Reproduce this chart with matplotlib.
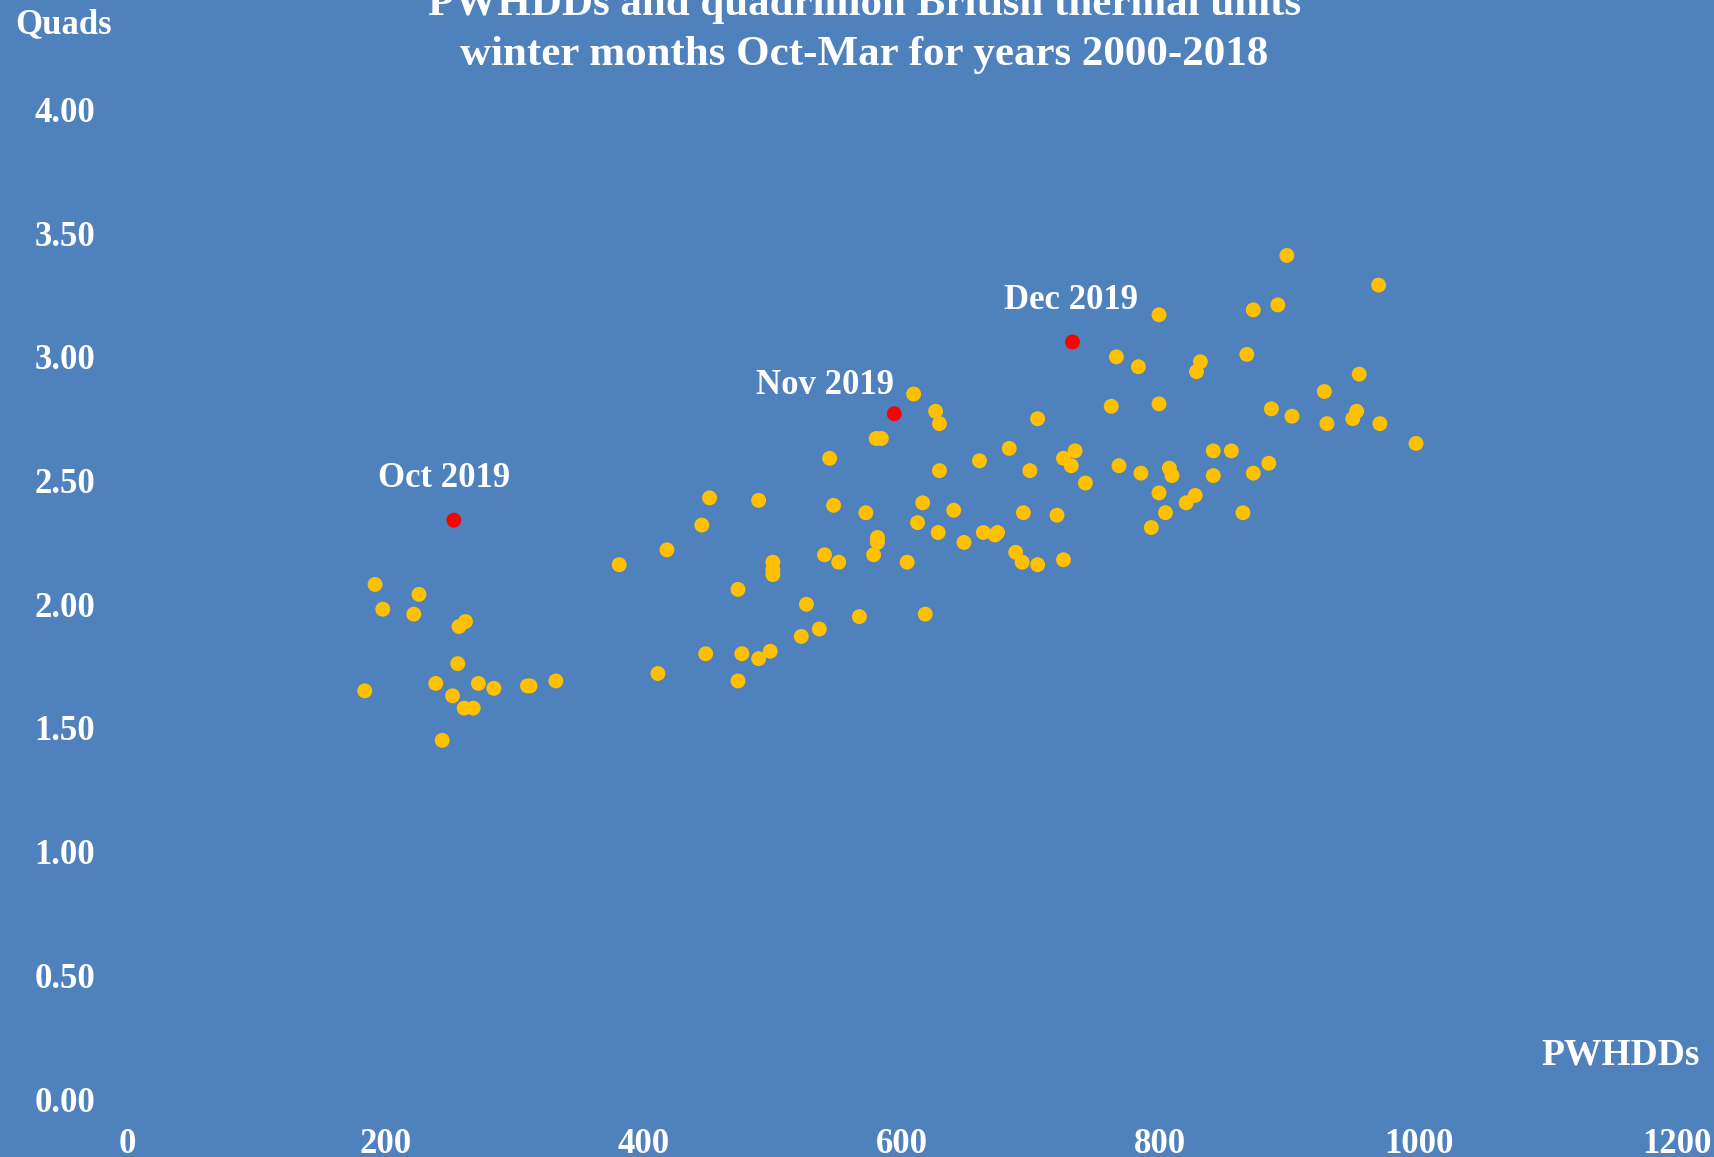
import matplotlib
matplotlib.use("Agg")
import matplotlib.pyplot as plt

# winter months Oct-Mar 2000-2018
pwhdd = [184, 192, 198, 222, 226, 239, 244, 252, 256, 257, 262, 261, 268, 272, 284, 310, 312, 332,
         381, 411, 418, 445, 448, 451, 473, 473, 476, 489, 489, 498, 500, 500, 500, 522, 526, 536,
         540, 544, 547, 551, 567, 572, 578, 581, 581, 580, 584, 604, 609, 612, 616, 618, 626, 629,
         629, 628, 640, 648, 660, 663, 672, 674, 683, 688, 693, 694, 699, 705, 705, 720, 725, 725,
         731, 734, 742, 762, 766, 768, 783, 785, 793, 799, 799, 799, 804, 807, 809, 820, 827, 828,
         831, 841, 841, 855, 864, 867, 872, 872, 884, 886, 891, 898, 902, 927, 929, 949, 952, 954,
         969, 970, 998]
quads = [1.65, 2.08, 1.98, 1.96, 2.04, 1.68, 1.45, 1.63, 1.76, 1.91, 1.93, 1.58, 1.58, 1.68, 1.66, 1.67, 1.67, 1.69,
         2.16, 1.72, 2.22, 2.32, 1.80, 2.43, 2.06, 1.69, 1.80, 2.42, 1.78, 1.81, 2.17, 2.14, 2.12, 1.87, 2.00, 1.90,
         2.20, 2.59, 2.40, 2.17, 1.95, 2.37, 2.20, 2.25, 2.27, 2.67, 2.67, 2.17, 2.85, 2.33, 2.41, 1.96, 2.78, 2.73,
         2.54, 2.29, 2.38, 2.25, 2.58, 2.29, 2.28, 2.29, 2.63, 2.21, 2.17, 2.37, 2.54, 2.75, 2.16, 2.36, 2.18, 2.59,
         2.56, 2.62, 2.49, 2.80, 3.00, 2.56, 2.96, 2.53, 2.31, 3.17, 2.81, 2.45, 2.37, 2.55, 2.52, 2.41, 2.44, 2.94,
         2.98, 2.62, 2.52, 2.62, 2.37, 3.01, 3.19, 2.53, 2.57, 2.79, 3.21, 3.41, 2.76, 2.86, 2.73, 2.75, 2.78, 2.93,
         3.29, 2.73, 2.65]

# 2019 months highlighted in red
months_2019 = ["Oct 2019", "Nov 2019", "Dec 2019"]
pwhdd_2019 = [253, 594, 732]
quads_2019 = [2.34, 2.77, 3.06]

x_ticks = [0, 200, 400, 600, 800, 1000, 1200]
y_ticks = [0.0, 0.5, 1.0, 1.5, 2.0, 2.5, 3.0, 3.5, 4.0]

bg = "#4F81BD"
font = ["Liberation Serif", "DejaVu Serif"]

fig = plt.figure(figsize=(17.15, 11.57), dpi=100, facecolor=bg)
ax = fig.add_axes([0.0741, 0.0501, 0.9037, 0.8553])
ax.set_facecolor(bg)

ax.scatter(pwhdd, quads, s=115, color="#FFC000", edgecolors="none", zorder=3)
ax.scatter(pwhdd_2019, quads_2019, s=115, color="#FF0000", edgecolors="none", zorder=4)

offsets = [(-7, 30), (-50, 20), (-1, 30)]
for label, x, y, off in zip(months_2019, pwhdd_2019, quads_2019, offsets):
    ax.annotate(label, (x, y), xytext=off, textcoords="offset points",
                ha="center", va="center", color="white", fontsize=25,
                fontweight="bold", family=font)

ax.set_xlim(0, 1200)
ax.set_ylim(0, 4.0)
ax.set_xticks(x_ticks)
ax.set_yticks(y_ticks)
ax.set_yticklabels([f"{v:.2f}" for v in y_ticks])
ax.tick_params(length=0, colors="white", labelsize=25, pad=0)
ax.tick_params(axis="y", pad=23)
ax.tick_params(axis="x", pad=21)
for lab in ax.get_xticklabels() + ax.get_yticklabels():
    lab.set_family(font)
    lab.set_fontweight("bold")
for sp in ax.spines.values():
    sp.set_visible(False)

fig.text(0.504, 1.012, "PWHDDs and quadrillion British thermal units\nwinter months Oct-Mar for years 2000-2018",
         ha="center", va="top", color="white", fontsize=31, fontweight="bold",
         family=font, linespacing=1.4)
fig.text(0.037, 0.979, "Quads", ha="center", va="center", color="white",
         fontsize=25, fontweight="bold", family=font)
fig.text(0.991, 0.088, "PWHDDs", ha="right", va="center", color="white",
         fontsize=27, fontweight="bold", family=font)

fig.savefig("out.png", dpi=100, facecolor=bg)
